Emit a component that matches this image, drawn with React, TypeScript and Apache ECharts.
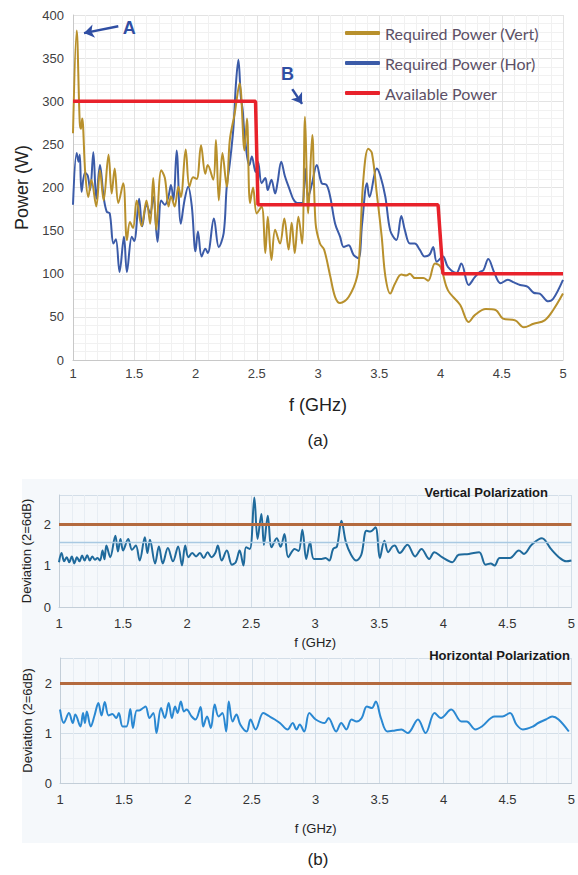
import React, { useEffect, useRef } from 'react';
import * as echarts from 'echarts';

// ---- (a) Required / available power ----
const vertFreq = [1.0, 1.03, 1.055, 1.065, 1.075, 1.1, 1.125, 1.15, 1.19, 1.22, 1.25, 1.29, 1.316, 1.34, 1.37, 1.41, 1.44, 1.465, 1.49, 1.52, 1.56, 1.6, 1.63, 1.655, 1.68, 1.72, 1.75, 1.78, 1.8, 1.83, 1.86, 1.88, 1.92, 1.95, 1.98, 2.01, 2.045, 2.08, 2.1, 2.145, 2.167, 2.19, 2.22, 2.255, 2.28, 2.32, 2.36, 2.4, 2.42, 2.445, 2.47, 2.5, 2.54, 2.57, 2.59, 2.62, 2.65, 2.69, 2.725, 2.76, 2.785, 2.81, 2.84, 2.87, 2.894, 2.92, 2.953, 2.98, 3.016, 3.05, 3.1, 3.14, 3.18, 3.25, 3.32, 3.34, 3.37, 3.41, 3.44, 3.48, 3.52, 3.55, 3.59, 3.63, 3.68, 3.72, 3.75, 3.79, 3.86, 3.9, 3.955, 4.0, 4.06, 4.16, 4.23, 4.28, 4.37, 4.45, 4.51, 4.61, 4.68, 4.76, 4.85, 4.92, 5.0];
const vertPower = [263, 382, 275, 268, 280, 217, 189, 209, 178, 220, 185, 238, 193, 222, 182, 205, 139, 160, 153, 185, 155, 185, 158, 211, 151, 220, 211, 178, 190, 178, 201, 189, 244, 201, 212, 210, 249, 216, 226, 209, 255, 185, 240, 201, 255, 286, 321, 243, 280, 182, 200, 170, 178, 124, 166, 116, 151, 135, 164, 128, 159, 124, 166, 135, 282, 170, 261, 159, 135, 128, 97, 73, 66, 73, 97, 128, 209, 245, 240, 193, 143, 97, 77, 89, 99, 98, 100, 95, 95, 92, 112, 108, 81, 64, 44, 52, 59, 58, 48, 46, 38, 42, 46, 58, 77];

const horFreq = [1.0, 1.03, 1.045, 1.055, 1.07, 1.098, 1.12, 1.14, 1.166, 1.19, 1.22, 1.25, 1.275, 1.3, 1.33, 1.35, 1.38, 1.416, 1.44, 1.48, 1.5, 1.54, 1.565, 1.6, 1.63, 1.655, 1.69, 1.72, 1.75, 1.78, 1.8, 1.82, 1.846, 1.88, 1.91, 1.94, 1.97, 2.0, 2.02, 2.05, 2.08, 2.1, 2.15, 2.19, 2.23, 2.255, 2.28, 2.31, 2.33, 2.35, 2.37, 2.385, 2.4, 2.44, 2.46, 2.49, 2.51, 2.54, 2.57, 2.59, 2.62, 2.65, 2.67, 2.7, 2.73, 2.77, 2.8, 2.83, 2.87, 2.894, 2.92, 2.95, 2.99, 3.03, 3.07, 3.1, 3.14, 3.18, 3.21, 3.25, 3.29, 3.33, 3.36, 3.4, 3.42, 3.48, 3.51, 3.55, 3.59, 3.64, 3.68, 3.71, 3.75, 3.79, 3.83, 3.87, 3.91, 3.94, 3.97, 4.02, 4.06, 4.13, 4.17, 4.23, 4.28, 4.32, 4.35, 4.39, 4.44, 4.49, 4.55, 4.6, 4.65, 4.71, 4.76, 4.81, 4.88, 4.92, 5.0];
const horPower = [180, 240, 230, 238, 195, 217, 214, 197, 241, 187, 226, 189, 172, 170, 135, 140, 102, 143, 102, 143, 138, 187, 155, 180, 170, 189, 137, 185, 180, 190, 203, 185, 243, 158, 185, 201, 178, 126, 149, 120, 129, 124, 164, 131, 147, 201, 228, 270, 320, 348, 305, 290, 262, 226, 236, 218, 230, 205, 211, 197, 209, 193, 206, 230, 213, 197, 186, 182, 182, 222, 189, 204, 226, 205, 203, 189, 158, 143, 131, 133, 122, 118, 158, 205, 189, 222, 213, 189, 150, 139, 167, 150, 135, 135, 128, 120, 122, 131, 114, 120, 108, 101, 112, 87, 96, 102, 104, 117, 101, 89, 93, 90, 87, 85, 78, 77, 68, 71, 93];

const availFreq = [1.0, 2.49, 2.51, 3.98, 4.02, 5.0];
const availPower = [300, 300, 180, 180, 100, 100];

// ---- (b) Deviation ----
const devVertFreq = [1.0, 1.02, 1.04, 1.06, 1.08, 1.1, 1.12, 1.14, 1.16, 1.18, 1.2, 1.22, 1.24, 1.26, 1.28, 1.3, 1.32, 1.34, 1.355, 1.37, 1.4, 1.44, 1.46, 1.48, 1.5, 1.54, 1.57, 1.6, 1.63, 1.67, 1.69, 1.71, 1.75, 1.78, 1.81, 1.85, 1.89, 1.93, 1.96, 1.985, 2.01, 2.04, 2.07, 2.1, 2.13, 2.16, 2.19, 2.22, 2.24, 2.27, 2.31, 2.35, 2.38, 2.41, 2.44, 2.46, 2.49, 2.525, 2.55, 2.58, 2.6, 2.63, 2.66, 2.7, 2.73, 2.76, 2.79, 2.84, 2.87, 2.9, 2.93, 2.96, 2.99, 3.05, 3.08, 3.11, 3.14, 3.17, 3.205, 3.24, 3.28, 3.32, 3.36, 3.4, 3.43, 3.47, 3.505, 3.54, 3.57, 3.6, 3.62, 3.66, 3.72, 3.78, 3.83, 3.89, 3.93, 3.99, 4.07, 4.12, 4.2, 4.28, 4.33, 4.37, 4.4, 4.44, 4.52, 4.59, 4.63, 4.69, 4.77, 4.84, 4.91, 4.96, 5.0];
const devVertValue = [1.08, 1.3, 1.1, 1.2, 1.08, 1.22, 1.05, 1.2, 1.1, 1.24, 1.12, 1.25, 1.12, 1.22, 1.14, 1.18, 1.12, 1.36, 1.15, 1.48, 1.2, 1.72, 1.34, 1.64, 1.36, 1.64, 1.38, 1.48, 1.12, 1.68, 1.3, 1.62, 1.05, 1.46, 1.05, 1.42, 1.1, 1.46, 1.0, 1.48, 1.2, 1.3, 1.22, 1.3, 1.18, 1.32, 1.2, 1.3, 1.48, 1.12, 1.36, 1.02, 1.08, 1.36, 1.0, 1.44, 1.4, 2.64, 1.64, 2.24, 1.5, 2.2, 1.44, 1.66, 1.45, 1.76, 1.2, 1.4, 1.35, 1.86, 1.16, 1.56, 1.16, 1.16, 1.18, 1.12, 1.4, 1.46, 2.08, 1.56, 1.26, 1.12, 1.26, 1.84, 1.82, 1.92, 1.18, 1.6, 1.32, 1.45, 1.48, 1.3, 1.5, 1.22, 1.4, 1.16, 1.32, 1.2, 1.08, 1.26, 1.28, 1.32, 1.02, 1.05, 1.0, 1.18, 1.18, 1.36, 1.28, 1.5, 1.66, 1.4, 1.18, 1.1, 1.12];

const devHorFreq = [1.0, 1.03, 1.07, 1.1, 1.12, 1.16, 1.18, 1.195, 1.21, 1.24, 1.27, 1.3, 1.325, 1.35, 1.38, 1.41, 1.44, 1.46, 1.49, 1.52, 1.55, 1.57, 1.6, 1.62, 1.65, 1.67, 1.7, 1.73, 1.755, 1.79, 1.82, 1.85, 1.875, 1.9, 1.92, 1.945, 1.97, 1.99, 2.03, 2.06, 2.1, 2.12, 2.15, 2.18, 2.21, 2.24, 2.27, 2.3, 2.32, 2.35, 2.38, 2.41, 2.46, 2.49, 2.53, 2.59, 2.64, 2.68, 2.72, 2.78, 2.82, 2.85, 2.875, 2.91, 2.95, 3.0, 3.07, 3.1, 3.16, 3.2, 3.24, 3.28, 3.32, 3.36, 3.4, 3.44, 3.47, 3.51, 3.56, 3.62, 3.67, 3.72, 3.8, 3.86, 3.93, 3.98, 4.06, 4.14, 4.18, 4.25, 4.3, 4.4, 4.46, 4.52, 4.57, 4.62, 4.7, 4.74, 4.8, 4.85, 4.9, 4.98];
const devHorValue = [1.47, 1.2, 1.4, 1.2, 1.37, 1.13, 1.4, 1.2, 1.43, 1.13, 1.35, 1.6, 1.35, 1.62, 1.35, 1.38, 1.3, 1.4, 1.13, 1.13, 1.48, 1.1, 1.45, 1.45, 1.5, 1.53, 1.3, 1.4, 1.0, 1.5, 1.3, 1.6, 1.3, 1.53, 1.4, 1.63, 1.43, 1.47, 1.33, 1.27, 1.52, 1.13, 1.33, 1.1, 1.57, 1.33, 1.4, 1.03, 1.63, 1.23, 1.37, 1.17, 1.03, 1.27, 1.07, 1.4, 1.33, 1.27, 1.2, 1.07, 1.2, 1.07, 1.17, 1.03, 1.4, 1.27, 1.2, 1.3, 1.03, 1.2, 1.07, 1.27, 1.23, 1.3, 1.53, 1.5, 1.63, 1.3, 1.03, 1.05, 1.07, 1.0, 1.27, 1.0, 1.4, 1.3, 1.47, 1.23, 1.23, 1.07, 1.13, 1.33, 1.33, 1.4, 1.17, 1.07, 1.13, 1.2, 1.27, 1.33, 1.27, 1.03];

const threshold = 2;
const halfThreshold = 1.55;

const zip = (a: number[], b: number[]) => a.map((x, i) => [x, b[i]]);
const intLabel = (v: number) => (Number.isInteger(v) ? String(v) : '');

export default function App() {
  const ref = useRef<HTMLDivElement>(null);
  useEffect(() => {
    const chart = echarts.init(ref.current!, null, { renderer: 'svg' });
    const arial = 'Liberation Sans, Arial, sans-serif';
    const bottomX = (gi: number, gap: number) => ({
      type: 'value', gridIndex: gi, min: 1, max: 5, interval: 0.5,
      name: 'f (GHz)', nameLocation: 'middle', nameGap: gap,
      nameTextStyle: { fontFamily: arial, fontSize: 13, color: '#222' },
      axisLine: { show: true, lineStyle: { color: '#c3ced8' } },
      axisTick: { show: false },
      axisLabel: { fontFamily: arial, fontSize: 13, color: '#333', margin: 10 },
      splitLine: { show: true, lineStyle: { color: '#d3dee8' } },
      minorTick: { show: false, splitNumber: 5 },
      minorSplitLine: { show: true, lineStyle: { color: '#e7edf3' } },
    });
    const bottomY = (gi: number, max: number) => ({
      type: 'value', gridIndex: gi, min: 0, max, interval: 1,
      name: 'Deviation (2=6dB)', nameLocation: 'middle', nameGap: 19,
      nameTextStyle: { fontFamily: arial, fontSize: 13, color: '#222' },
      axisLine: { show: true, lineStyle: { color: '#c3ced8' } },
      axisTick: { show: false },
      axisLabel: { fontFamily: arial, fontSize: 13, color: '#333', margin: 8, formatter: intLabel },
      splitLine: { show: true, lineStyle: { color: '#d3dee8' } },
      minorTick: { show: false, splitNumber: 2 },
      minorSplitLine: { show: true, lineStyle: { color: '#e9eef3' } },
    });
    chart.setOption({
      animation: false,
      backgroundColor: '#ffffff',
      title: [
        { text: 'Vertical Polarization', right: 30, top: 486, padding: 0,
          textStyle: { fontFamily: arial, fontSize: 13, fontWeight: 'bold', color: '#1a1a1a' } },
        { text: 'Horizontal Polarization', right: 8, top: 649, padding: 0,
          textStyle: { fontFamily: arial, fontSize: 13, fontWeight: 'bold', color: '#1a1a1a' } },
      ],
      graphic: [
        { type: 'rect', z: -10, silent: true, shape: { x: 22, y: 479, width: 556, height: 364 },
          style: { fill: '#f5f8fb' } },
        { type: 'text', x: 318, y: 440, silent: true,
          style: { text: '(a)', fontFamily: arial, fontSize: 17, fill: '#222', align: 'center', verticalAlign: 'middle' } },
        { type: 'text', x: 318, y: 859, silent: true,
          style: { text: '(b)', fontFamily: arial, fontSize: 17, fill: '#222', align: 'center', verticalAlign: 'middle' } },
      ],
      legend: {
        orient: 'vertical', left: 340, top: 18, itemWidth: 35, itemHeight: 4, itemGap: 10,
        icon: 'roundRect',
        textStyle: { fontFamily: 'Lato, Open Sans, sans-serif', fontSize: 16, color: '#5c5066', lineHeight: 20 },
        data: ['Required Power (Vert)', 'Required Power (Hor)', 'Available Power'],
      },
      grid: [
        { left: 73, top: 15, width: 490, height: 345 },
        { left: 59, top: 495, width: 514, height: 112 },
        { left: 60, top: 658, width: 512, height: 125 },
      ],
      xAxis: [
        {
          type: 'value', gridIndex: 0, min: 1, max: 5, interval: 0.5,
          name: 'f (GHz)', nameLocation: 'middle', nameGap: 36,
          nameTextStyle: { fontFamily: arial, fontSize: 18, color: '#222' },
          axisLine: { show: true, lineStyle: { color: '#c8c8c8' } },
          axisTick: { show: false },
          axisLabel: { fontFamily: arial, fontSize: 13, color: '#404040', margin: 7 },
          splitLine: { show: true, lineStyle: { color: '#e3e3e3' } },
          minorTick: { show: false, splitNumber: 5 },
          minorSplitLine: { show: true, lineStyle: { color: '#f1f1f1' } },
        },
        bottomX(1, 29),
        bottomX(2, 39),
      ],
      yAxis: [
        {
          type: 'value', gridIndex: 0, min: 0, max: 400, interval: 50,
          name: 'Power (W)', nameLocation: 'middle', nameGap: 37,
          nameTextStyle: { fontFamily: arial, fontSize: 18, color: '#222' },
          axisLine: { show: true, lineStyle: { color: '#c8c8c8' } },
          axisTick: { show: false },
          axisLabel: { fontFamily: arial, fontSize: 13, color: '#404040', margin: 9 },
          splitLine: { show: true, lineStyle: { color: '#e3e3e3' } },
          minorTick: { show: false, splitNumber: 5 },
          minorSplitLine: { show: true, lineStyle: { color: '#f1f1f1' } },
        },
        bottomY(1, 2.7),
        bottomY(2, 2.5),
      ],
      series: [
        {
          name: 'Required Power (Vert)', type: 'line', xAxisIndex: 0, yAxisIndex: 0,
          data: zip(vertFreq, vertPower), showSymbol: false, smooth: 0.35, z: 3,
          lineStyle: { color: '#b8902c', width: 2 }, itemStyle: { color: '#b8902c' },
          markLine: {
            silent: true, symbol: ['none', 'arrow'], symbolSize: 10,
            lineStyle: { color: '#2f4ea3', width: 2.5, type: 'solid' }, label: { show: false },
            data: [
              [{ coord: [1.37, 387] }, { coord: [1.09, 379] }],
              [{ coord: [2.79, 314] }, { coord: [2.87, 297] }],
            ],
          },
          markPoint: {
            silent: true, symbol: 'circle', symbolSize: 0,
            label: { show: true, position: 'inside', fontFamily: arial, fontSize: 18, fontWeight: 'bold', color: '#2f4ea3' },
            data: [
              { coord: [1.46, 385], value: 'A', label: { formatter: 'A' } },
              { coord: [2.75, 332], value: 'B', label: { formatter: 'B' } },
            ],
          },
        },
        {
          name: 'Required Power (Hor)', type: 'line', xAxisIndex: 0, yAxisIndex: 0,
          data: zip(horFreq, horPower), showSymbol: false, smooth: 0.35, z: 2,
          lineStyle: { color: '#3b5ba8', width: 2 }, itemStyle: { color: '#3b5ba8' },
        },
        {
          name: 'Available Power', type: 'line', xAxisIndex: 0, yAxisIndex: 0,
          data: zip(availFreq, availPower), showSymbol: false, z: 4,
          lineStyle: { color: '#e8222b', width: 3.5 }, itemStyle: { color: '#e8222b' },
        },
        {
          name: 'Deviation Vert', type: 'line', xAxisIndex: 1, yAxisIndex: 1,
          data: zip(devVertFreq, devVertValue), showSymbol: false, smooth: 0.35, z: 3,
          lineStyle: { color: '#1f6a9c', width: 2 },
          markLine: {
            silent: true, symbol: 'none', label: { show: false },
            data: [
              { yAxis: halfThreshold, lineStyle: { color: '#a9c9e2', width: 1.3, type: 'solid' } },
              { yAxis: threshold, lineStyle: { color: '#b46a3e', width: 3, type: 'solid' } },
            ],
          },
        },
        {
          name: 'Deviation Hor', type: 'line', xAxisIndex: 2, yAxisIndex: 2,
          data: zip(devHorFreq, devHorValue), showSymbol: false, smooth: 0.35, z: 3,
          lineStyle: { color: '#2a88d2', width: 2 },
          markLine: {
            silent: true, symbol: 'none', label: { show: false },
            data: [{ yAxis: threshold, lineStyle: { color: '#b46a3e', width: 3, type: 'solid' } }],
          },
        },
      ],
    });
    return () => chart.dispose();
  }, []);
  return (
    <div
      ref={ref}
      style={{ position: 'absolute', left: 0, top: 0, width: 578, height: 875, background: '#fff' }}
    />
  );
}
